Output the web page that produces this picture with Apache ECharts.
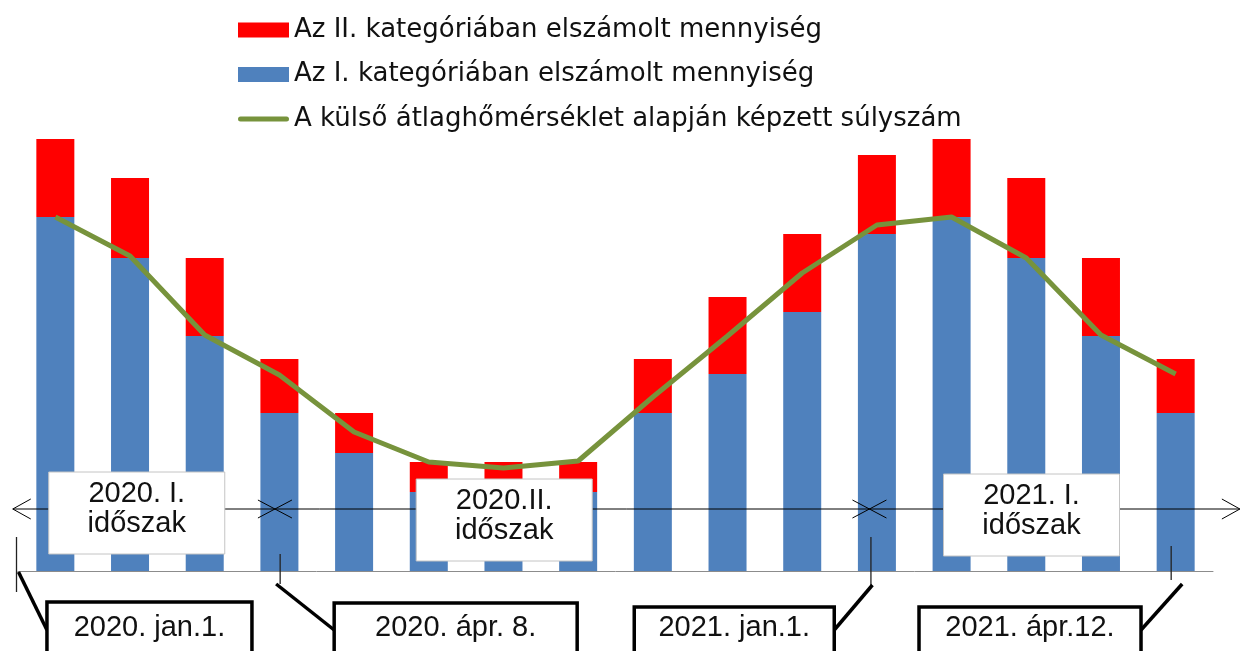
<!DOCTYPE html>
<html>
<head>
<meta charset="utf-8">
<script src="https://cdn.jsdelivr.net/npm/echarts@6/dist/echarts.min.js"></script>
<style>
  html, body { margin: 0; padding: 0; background: #fff; }
  #chart { width: 1241px; height: 651px; }
</style>
</head>
<body>
<div id="chart"></div>
<script>
// months jan 2020 .. apr 2021
var months = ['2020. jan.', 'febr.', 'márc.', 'ápr.', 'máj.', 'jún.', 'júl.', 'aug.',
  'szept.', 'okt.', 'nov.', 'dec.', '2021. jan.', 'febr.', 'márc.', 'ápr.'];
var catOne = [354, 313, 235, 158, 118, 79, 79, 79, 158, 197, 259, 337, 354, 313, 235, 158];
var catTwo = [78, 80, 78, 54, 40, 30, 30, 30, 54, 77, 78, 79, 78, 80, 78, 54];
var weightNumber = [354, 315, 236, 196, 139, 109, 103, 110, 174, 235, 298, 346, 354, 313, 236, 197];

var seriesNames = [
  'Az II. kategóriában elszámolt mennyiség',
  'Az I. kategóriában elszámolt mennyiség',
  'A külső átlaghőmérséklet alapján képzett súlyszám'
];

// annotation texts
var dateLabels = ['2020. jan.1.', '2020. ápr. 8.', '2021. jan.1.', '2021. ápr.12.'];
var periodLabels = ['2020. I.\nidőszak', '2020.II.\nidőszak', '2021. I.\nidőszak'];

// where annotations sit, in category-axis units (0 = first bar centre)
var dateMarkAt = [-0.52, 3.01, 10.92, 14.94];
var periodBounds = [-0.57, 2.94, 10.9, 15.86];
var periodAt = [1.09, 6.01, 13.07];
var dateBoxAt = [1.26, 5.36, 9.09, 13.05];

var FONT = '"Liberation Sans", Arial, sans-serif';
var ARROW_Y = 509;

var chart = echarts.init(document.getElementById('chart'), null, { renderer: 'canvas' });

chart.setOption({
  animation: false,
  backgroundColor: '#fff',
  grid: { left: 18, right: 28, top: 139, bottom: 80 },
  legend: {
    orient: 'vertical',
    left: 233,
    top: 12,
    itemWidth: 51,
    itemHeight: 15,
    itemGap: 18.5,
    selectedMode: false,
    textStyle: { fontFamily: '"DejaVu Sans", sans-serif', fontSize: 26, lineHeight: 26, color: '#111' },
    data: [
      { name: seriesNames[0], icon: 'rect' },
      { name: seriesNames[1], icon: 'rect' },
      // flat stroke for the line series, no marker dot
      { name: seriesNames[2], icon: 'path://M2.5,0 L48.5,0 A2.5,2.5 0 0 1 48.5,5 L2.5,5 A2.5,2.5 0 0 1 2.5,0 Z' }
    ]
  },
  xAxis: {
    type: 'category',
    data: months,
    axisLine: { lineStyle: { color: '#8c8c8c', width: 1 } },
    axisTick: { show: false },
    axisLabel: { show: false }
  },
  yAxis: { type: 'value', min: 0, max: 432, show: false, splitLine: { show: false } },
  series: [
    {
      name: seriesNames[1], type: 'bar', stack: 'q', barWidth: 38,
      itemStyle: { color: '#4f81bd' }, data: catOne
    },
    {
      name: seriesNames[0], type: 'bar', stack: 'q', barWidth: 38,
      itemStyle: { color: '#ff0000' }, data: catTwo
    },
    {
      name: seriesNames[2], type: 'line', symbol: 'none',
      lineStyle: { color: '#77933c', width: 5 }, itemStyle: { color: '#77933c' },
      data: weightNumber
    }
  ]
});

function buildAnnotations() {
  var x0 = chart.convertToPixel({ xAxisIndex: 0 }, 0);
  var step = chart.convertToPixel({ xAxisIndex: 0 }, 1) - x0;
  var xAt = function (v) { return x0 + v * step; };
  var els = [];
  var y = ARROW_Y;

  // period arrow line
  var xb = periodBounds.map(xAt);
  els.push({ type: 'line', shape: { x1: xb[0], y1: y, x2: xb[3], y2: y }, style: { stroke: '#000', lineWidth: 1 } });
  els.push({ type: 'polyline', shape: { points: [[xb[0] + 18, y - 10], [xb[0], y], [xb[0] + 18, y + 10]] }, style: { stroke: '#000', lineWidth: 1, fill: null } });
  els.push({ type: 'polyline', shape: { points: [[xb[3] - 18, y - 10], [xb[3], y], [xb[3] - 18, y + 10]] }, style: { stroke: '#000', lineWidth: 1, fill: null } });
  [xb[1], xb[2]].forEach(function (x) {
    els.push({ type: 'line', shape: { x1: x - 17, y1: y - 9, x2: x + 17, y2: y + 9 }, style: { stroke: '#000', lineWidth: 1 } });
    els.push({ type: 'line', shape: { x1: x - 17, y1: y + 9, x2: x + 17, y2: y - 9 }, style: { stroke: '#000', lineWidth: 1 } });
  });

  // period labels
  var periodTop = [472, 479, 474];
  periodLabels.forEach(function (txt, i) {
    var cx = xAt(periodAt[i]);
    els.push({ type: 'rect', shape: { x: cx - 88, y: periodTop[i], width: 176, height: 82 }, style: { fill: '#fff', stroke: '#c4c4c4', lineWidth: 1 } });
    els.push({ type: 'text', x: cx, y: periodTop[i] + 37, style: { text: txt, align: 'center', verticalAlign: 'middle', font: '29px ' + FONT, lineHeight: 29.5, fill: '#111' } });
  });

  // date markers with leaders and boxes
  var tick = [[537, 592], [554, 584], [537, 585], [546, 580]];
  var lead = [[2, 572], [-4, 584], [1.5, 585], [11, 584]];
  var boxW = [205, 243, 200, 222];
  var boxTop = [602, 603, 607, 607];
  dateLabels.forEach(function (txt, i) {
    var mx = xAt(dateMarkAt[i]);
    var cx = xAt(dateBoxAt[i]);
    var left = cx - boxW[i] / 2, right = cx + boxW[i] / 2;
    var endX = cx > mx ? left : right;
    els.push({ type: 'line', shape: { x1: mx, y1: tick[i][0], x2: mx, y2: tick[i][1] }, style: { stroke: '#222', lineWidth: 1.3 } });
    els.push({ type: 'line', shape: { x1: mx + lead[i][0], y1: lead[i][1], x2: endX, y2: 630 }, style: { stroke: '#000', lineWidth: 3.5 } });
    els.push({ type: 'rect', shape: { x: left, y: boxTop[i], width: boxW[i], height: 70 }, style: { fill: '#fff', stroke: '#000', lineWidth: 3.5 } });
    els.push({ type: 'text', x: cx, y: 628, style: { text: txt, align: 'center', verticalAlign: 'middle', font: '29px ' + FONT, fill: '#111' } });
  });

  els.forEach(function (el) { el.z = 100; el.silent = true; });
  return els;
}

chart.setOption({ graphic: { elements: buildAnnotations() } });
</script>
</body>
</html>
